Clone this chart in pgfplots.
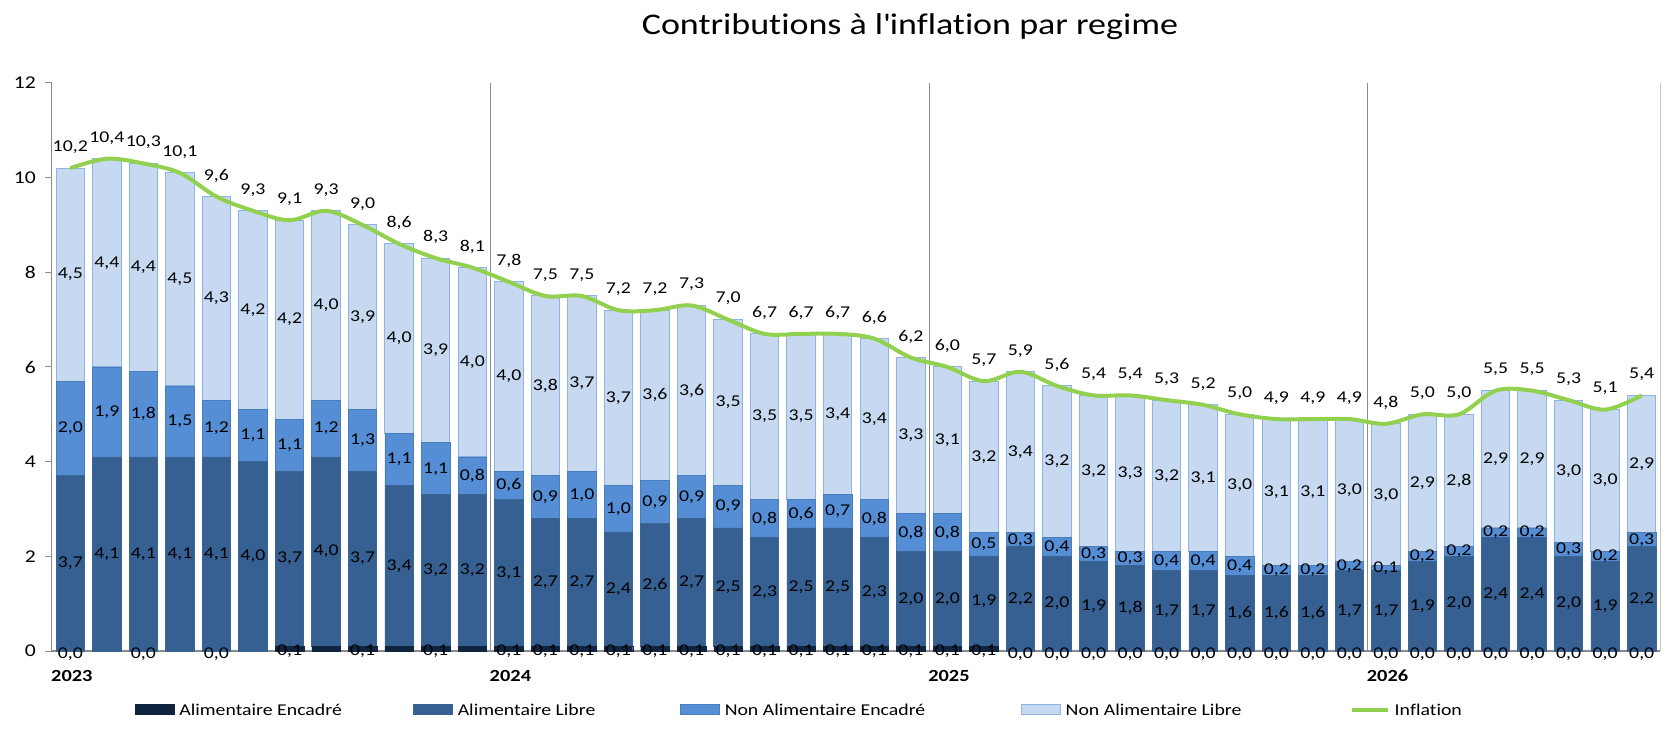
\documentclass[border=0pt]{standalone}
\usepackage{fontspec}
\setmainfont{Carlito}[FakeStretch=1.2, Ligatures={NoCommon}]
\usepackage{pgfplots}
\usepackage{pgfplotstable}
\pgfplotsset{compat=1.18}

\definecolor{cAE}{HTML}{0F243E}
\definecolor{cAL}{HTML}{376092}
\definecolor{cALb}{HTML}{3A6494}
\definecolor{cNAE}{HTML}{558ED5}
\definecolor{cNAEb}{HTML}{4A7EBB}
\definecolor{cNAL}{HTML}{C6D9F1}
\definecolor{cNALb}{HTML}{8EB4E3}
\definecolor{cINF}{HTML}{92D050}
\definecolor{gridg}{HTML}{8C8C8C}
\definecolor{gridl}{HTML}{C8C8C8}

\newcommand\labfont{\fontsize{16.5bp}{18bp}\selectfont}
\newcommand\tickfont{\fontsize{18bp}{19bp}\selectfont}
\newcommand\yearfont{\fontsize{17bp}{18bp}\selectfont}
\newcommand\legfont{\fontsize{16.5bp}{18bp}\selectfont}

\pgfplotstableread{
x AE AL NAE NAL INF s
0 0.0 3.7 2.0 4.5 10.2 1
1 0.0 4.1 1.9 4.4 10.4 0
2 0.0 4.1 1.8 4.4 10.3 1
3 0.0 4.1 1.5 4.5 10.1 0
4 0.0 4.1 1.2 4.3 9.6 1
5 0.0 4.0 1.1 4.2 9.3 0
6 0.1 3.7 1.1 4.2 9.1 1
7 0.1 4.0 1.2 4.0 9.3 0
8 0.1 3.7 1.3 3.9 9.0 1
9 0.1 3.4 1.1 4.0 8.6 0
10 0.1 3.2 1.1 3.9 8.3 1
11 0.1 3.2 0.8 4.0 8.1 0
12 0.1 3.1 0.6 4.0 7.8 1
13 0.1 2.7 0.9 3.8 7.5 1
14 0.1 2.7 1.0 3.7 7.5 1
15 0.1 2.4 1.0 3.7 7.2 1
16 0.1 2.6 0.9 3.6 7.2 1
17 0.1 2.7 0.9 3.6 7.3 1
18 0.1 2.5 0.9 3.5 7.0 1
19 0.1 2.3 0.8 3.5 6.7 1
20 0.1 2.5 0.6 3.5 6.7 1
21 0.1 2.5 0.7 3.4 6.7 1
22 0.1 2.3 0.8 3.4 6.6 1
23 0.1 2.0 0.8 3.3 6.2 1
24 0.1 2.0 0.8 3.1 6.0 1
25 0.1 1.9 0.5 3.2 5.7 1
26 0.0 2.2 0.3 3.4 5.9 1
27 0.0 2.0 0.4 3.2 5.6 1
28 0.0 1.9 0.3 3.2 5.4 1
29 0.0 1.8 0.3 3.3 5.4 1
30 0.0 1.7 0.4 3.2 5.3 1
31 0.0 1.7 0.4 3.1 5.2 1
32 0.0 1.6 0.4 3.0 5.0 1
33 0.0 1.6 0.2 3.1 4.9 1
34 0.0 1.6 0.2 3.1 4.9 1
35 0.0 1.7 0.2 3.0 4.9 1
36 0.0 1.7 0.1 3.0 4.8 1
37 0.0 1.9 0.2 2.9 5.0 1
38 0.0 2.0 0.2 2.8 5.0 1
39 0.0 2.4 0.2 2.9 5.5 1
40 0.0 2.4 0.2 2.9 5.5 1
41 0.0 2.0 0.3 3.0 5.3 1
42 0.0 1.9 0.2 3.0 5.1 1
43 0.0 2.2 0.3 2.9 5.4 1
}\data

\pgfplotsset{
  base/.style={
    at={(0,0)}, anchor=south west,
    scale only axis, width=1608bp, height=568bp,
    xmin=-0.5, xmax=43.5, ymin=0, ymax=12,
  },
  lab/.style={
    draw=none, forget plot, mark=none,
    nodes near coords={\pgfmathprintnumber[fixed,fixed zerofill,precision=1,use comma,assume math mode=true]{\pgfplotspointmeta}},
    point meta=explicit,
    every node near coord/.append style={font=\labfont, text=black, anchor=center, inner sep=0pt},
  },
  swatch/.style={legend image code/.code={\draw[##1] (0bp,-4bp) rectangle (39bp,6bp);}},
  lineimg/.style={legend image code/.code={\draw[##1] (0bp,1bp) -- (36bp,1bp);}},
}

\begin{document}
\begin{tikzpicture}
\useasboundingbox (-52bp,-84bp) rectangle (1625bp,651bp);

\begin{axis}[base,
  ybar stacked, bar width=0.78,
  axis line style={draw=none},
  xtick={-0.5,11.5,23.5,35.5},
  xticklabels={2023,2024,2025,2026},
  xmajorgrids, grid style={gridg, line width=1bp},
  extra x ticks={43.5}, extra x tick labels={},
  extra x tick style={grid style={gridl, line width=1bp}},
  extra y ticks={0}, extra y tick labels={},
  extra y tick style={grid=major, grid style={gridg, line width=1.2bp}, major tick length=0pt},
  x tick style={draw=none},
  ytick={0,2,...,12}, ytick pos=left,
  y tick style={draw=gridg, line width=1bp},
  tick align=outside, major tick length=7bp,
  /pgf/number format/assume math mode=true,
  yticklabel style={font=\tickfont, anchor=east, inner sep=0pt, xshift=-9bp},
  xticklabel style={font=\bfseries\yearfont, anchor=north west, inner sep=0pt, yshift=-12bp, xshift=-1bp},
]
\addplot[fill=cAE, draw=cAE] table[x=x, y=AE]{\data};
\addplot[fill=cAL, draw=cALb, line width=0.8bp] table[x=x, y=AL]{\data};
\addplot[fill=cNAE, draw=cNAEb, line width=0.8bp] table[x=x, y=NAE]{\data};
\addplot[fill=cNAL, draw=cNALb, line width=1bp] table[x=x, y=NAL]{\data};
\end{axis}

\begin{axis}[base, hide axis, clip=false,
  legend columns=5,
  legend style={at={(0,0)}, anchor=west, xshift=83bp, yshift=-59.5bp,
    draw=none, fill=none, inner sep=0pt, outer sep=0pt, font=\legfont,
    /tikz/every odd column/.append style={column sep=3bp}},
  legend cell align=left,
]
\addlegendimage{swatch, fill=cAE, draw=cAE}
\addlegendentry{\makebox[232bp][l]{Alimentaire Encadré}}
\addlegendimage{swatch, fill=cAL, draw=cALb}
\addlegendentry{\makebox[220bp][l]{Alimentaire Libre}}
\addlegendimage{swatch, fill=cNAE, draw=cNAEb, line width=1bp}
\addlegendentry{\makebox[294bp][l]{Non Alimentaire Encadré}}
\addlegendimage{swatch, fill=cNAL, draw=cNALb, line width=1bp}
\addlegendentry{\makebox[282bp][l]{Non Alimentaire Libre}}

\addplot[lab, restrict expr to domain={\thisrow{s}}{0.5:1.5},
  every node near coord/.append style={yshift=-3bp}]
  table[x=x, y expr=\thisrow{AE}/2, meta=AE]{\data};
\addplot[lab] table[x=x, y expr=\thisrow{AE}+\thisrow{AL}/2, meta=AL]{\data};
\addplot[lab] table[x=x, y expr=\thisrow{AE}+\thisrow{AL}+\thisrow{NAE}/2, meta=NAE]{\data};
\addplot[lab] table[x=x, y expr=\thisrow{AE}+\thisrow{AL}+\thisrow{NAE}+\thisrow{NAL}/2, meta=NAL]{\data};

\addplot[lineimg, smooth, tension=0.55, color=cINF, line width=4bp, mark=none] table[x=x, y=INF]{\data};
\addlegendentry{Inflation}
\addplot[lab, every node near coord/.append style={yshift=21bp}] table[x=x, y=INF, meta=INF]{\data};
\end{axis}

\node[anchor=base, font=\fontsize{30bp}{34bp}\selectfont] at (858bp,616bp) {Contributions à l\textquotesingle inflation par regime};
\end{tikzpicture}
\end{document}
